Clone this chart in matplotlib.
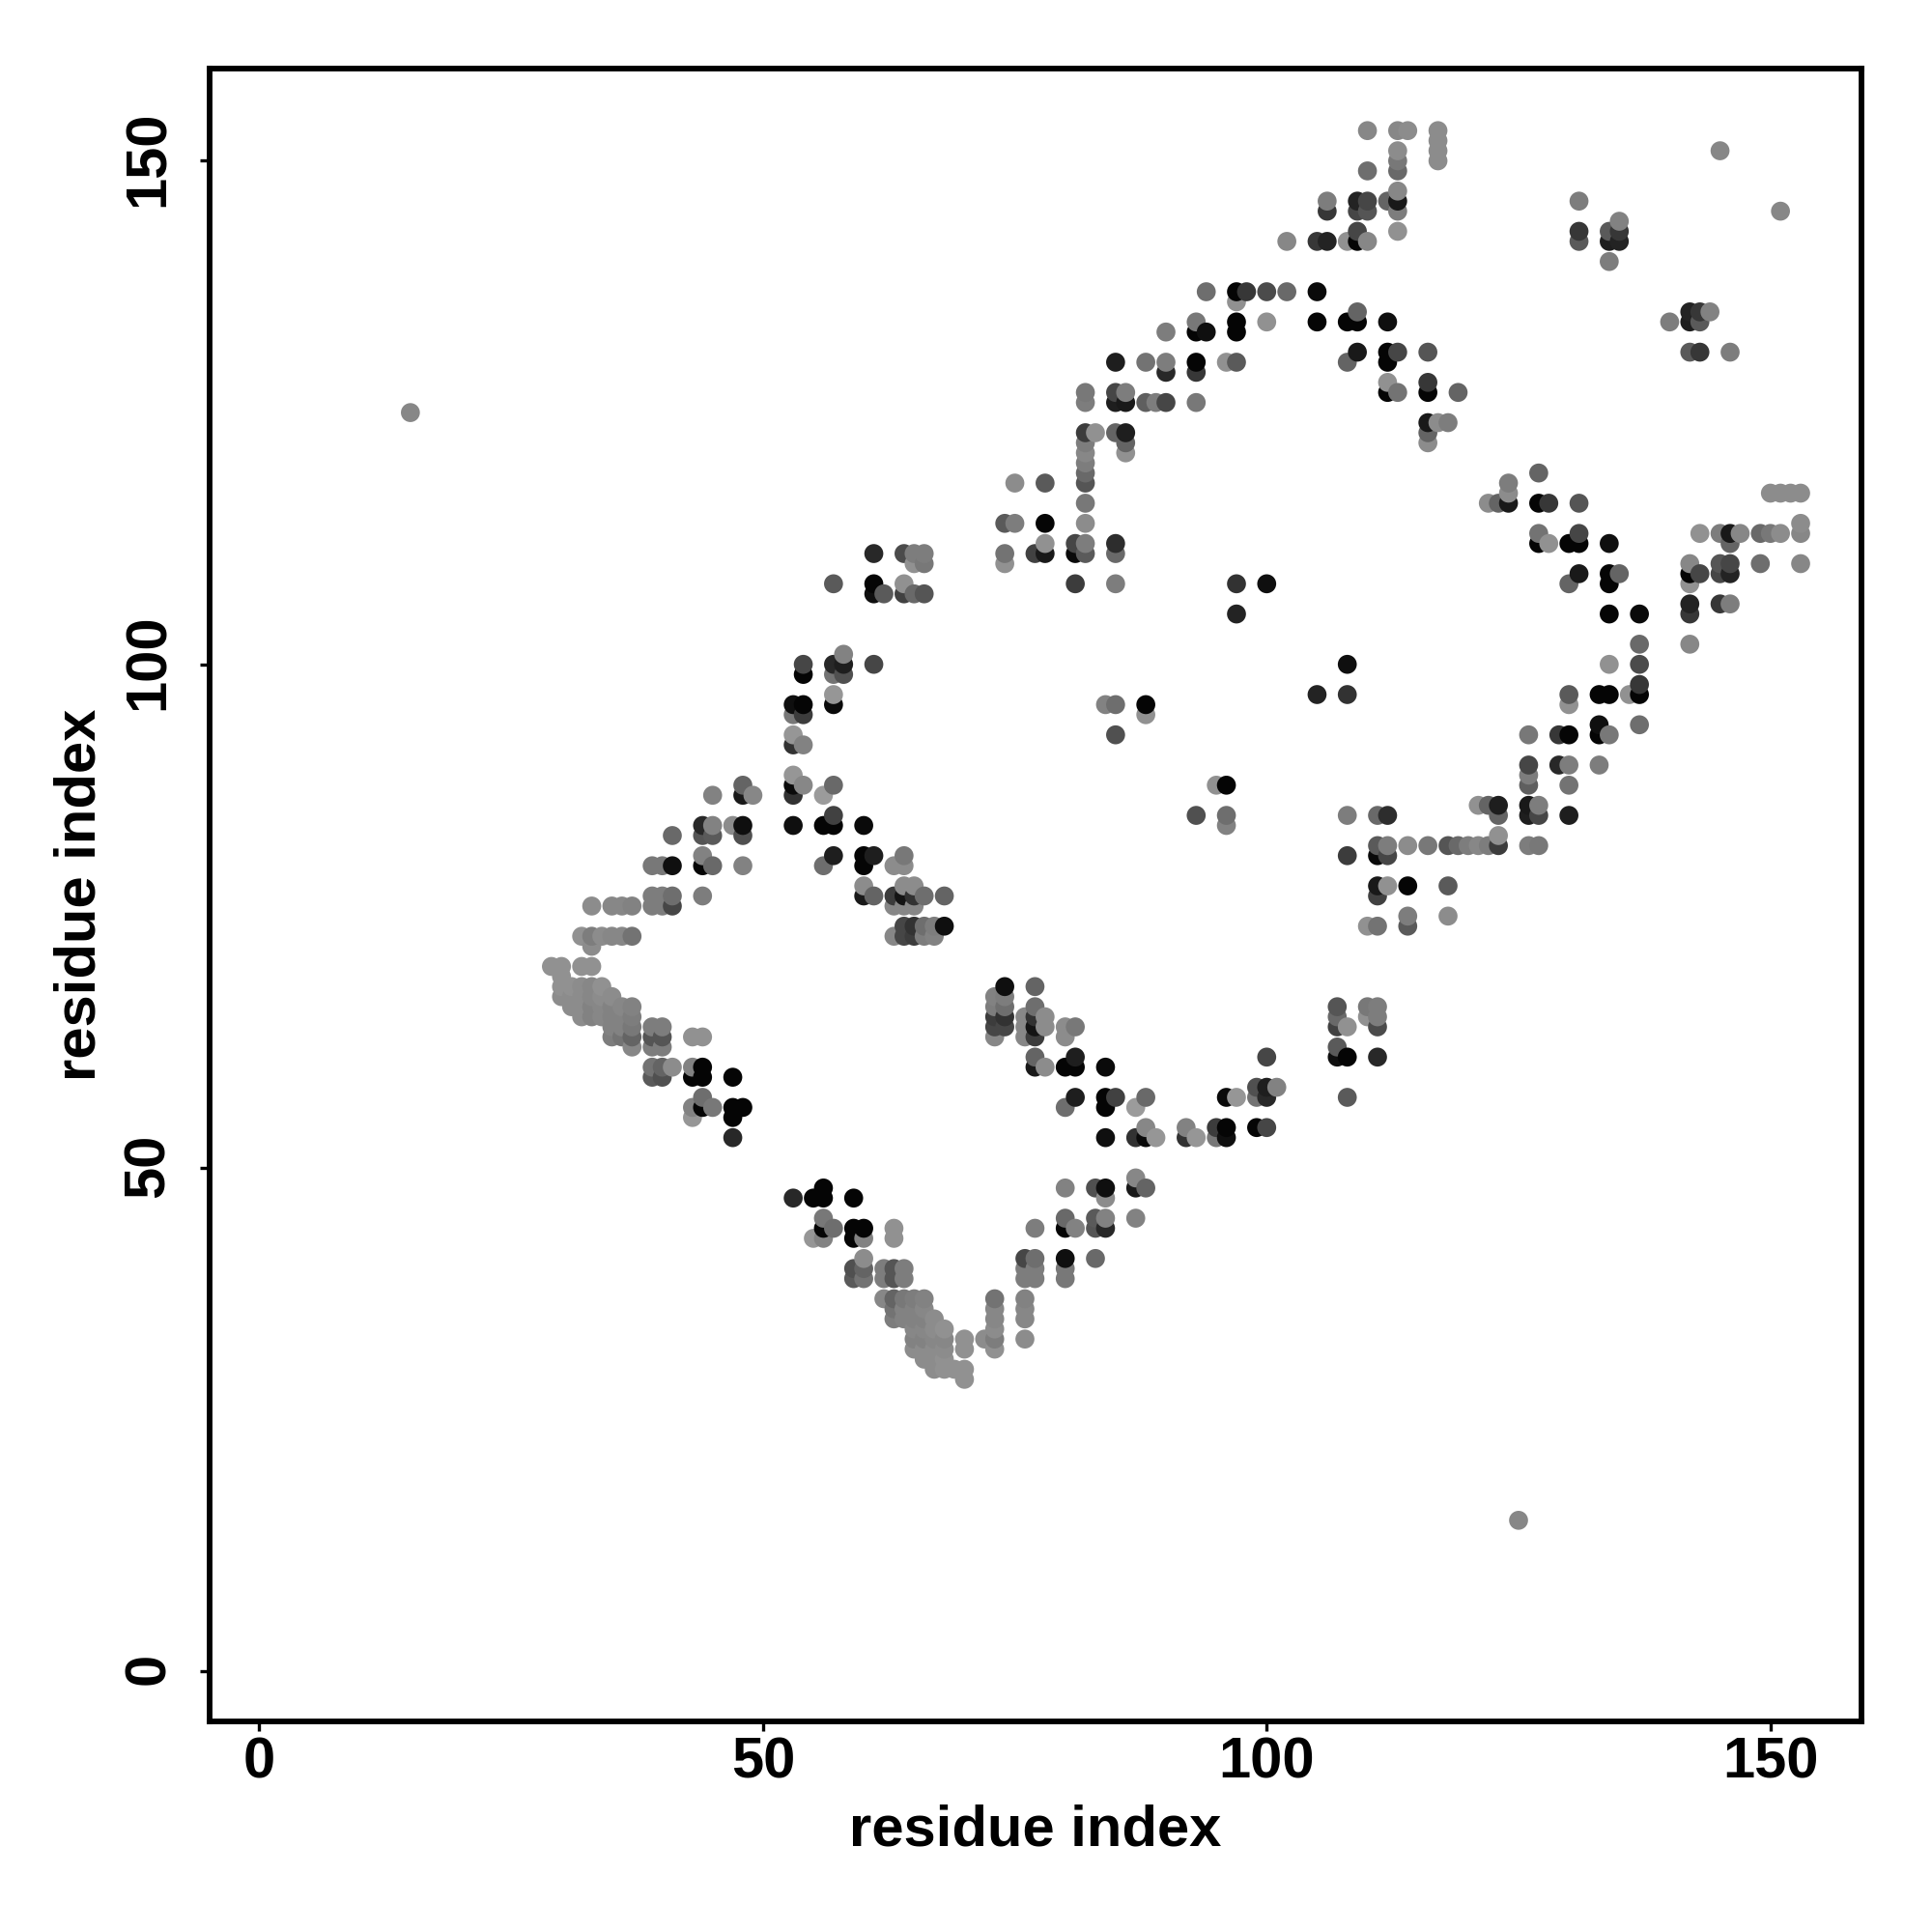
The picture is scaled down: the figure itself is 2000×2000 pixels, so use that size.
import matplotlib
matplotlib.use('Agg')
import matplotlib.pyplot as plt
from matplotlib.transforms import ScaledTranslation
import numpy as np

# contact pairs, one line per first residue (each pair is drawn on both sides of the diagonal)
res_a = [15,
    29,
    30, 30, 30, 30,
    31, 31, 31,
    32, 32, 32, 32, 32, 32,
    33, 33, 33, 33, 33, 33, 33, 33,
    34, 34, 34, 34, 34,
    35, 35, 35, 35, 35, 35, 35,
    36, 36, 36, 36, 36, 36,
    37, 37, 37, 37, 37, 37, 37,
    39, 39, 39, 39, 39, 39, 39, 39,
    40, 40, 40, 40, 40, 40, 40, 40,
    41, 41, 41, 41, 41,
    43, 43, 43, 43, 43,
    44, 44, 44, 44, 44, 44, 44, 44, 44, 44,
    45, 45, 45, 45, 45,
    47, 47, 47, 47, 47,
    48, 48, 48, 48, 48, 48,
    49,
    53, 53, 53, 53, 53, 53, 53, 53,
    54, 54, 54, 54, 54, 54,
    56, 56, 56,
    57, 57, 57, 57, 57, 57, 57, 57, 57,
    58, 58, 58,
    60, 60, 60, 60, 60,
    61, 61, 61, 61, 61, 61,
    62,
    63, 63, 63, 63,
    64, 64, 64, 64, 64, 64, 64, 64, 64, 64,
    65, 65, 65, 65, 65, 65, 65, 65,
    66, 66, 66, 66, 66, 66,
    67, 67,
    68, 68,
    74, 74, 74,
    75, 75,
    77,
    78, 78, 78, 78,
    81, 81, 81,
    82, 82, 82, 82, 82, 82, 82, 82, 82, 82, 82, 82,
    83,
    84,
    85, 85, 85, 85, 85, 85, 85, 85, 85,
    86, 86, 86, 86, 86,
    88, 88, 88, 88,
    89,
    90, 90, 90, 90,
    93, 93, 93, 93, 93,
    94, 94,
    96,
    97, 97, 97, 97, 97, 97, 97,
    98,
    100, 100, 100,
    102, 102,
    105, 105, 105,
    106, 106, 106,
    108, 108, 108,
    109, 109, 109, 109, 109, 109, 109,
    110, 110, 110, 110, 110,
    112, 112, 112, 112, 112, 112,
    113, 113, 113, 113, 113, 113, 113, 113, 113, 113,
    114,
    116, 116, 116, 116, 116, 116,
    117, 117, 117, 117, 117,
    118,
    119,
    131, 131, 131,
    134, 134, 134,
    135, 135, 135,
    145]

res_b = [125,
    70,
    70, 69, 68, 67,
    68, 67, 66,
    73, 70, 68, 67, 66, 65,
    76, 73, 72, 70, 68, 67, 66, 65,
    73, 68, 67, 66, 65,
    76, 73, 67, 66, 65, 64, 63,
    76, 73, 66, 65, 64, 63,
    76, 73, 66, 65, 64, 63, 62,
    80, 77, 76, 64, 63, 62, 60, 59,
    80, 77, 76, 64, 63, 62, 60, 59,
    83, 80, 77, 76, 60,
    63, 60, 59, 56, 55,
    84, 83, 81, 80, 77, 63, 60, 59, 57, 56,
    87, 84, 83, 80, 56,
    84, 59, 56, 55, 53,
    88, 87, 84, 83, 80, 56,
    87,
    96, 95, 93, 92, 89, 88, 87, 84,
    100, 99, 96, 95, 92, 88,
    87, 84, 80,
    108, 100, 99, 97, 96, 88, 85, 84, 81,
    101, 100, 99,
    84, 81, 80, 78, 77,
    111, 108, 107, 100, 81, 77,
    107,
    80, 77, 76, 73,
    111, 108, 107, 81, 80, 78, 77, 76, 74, 73,
    111, 110, 107, 78, 77, 76, 74, 73,
    111, 110, 107, 77, 74, 73,
    74, 73,
    77, 74,
    114, 111, 110,
    118, 114,
    111,
    118, 114, 112, 111,
    112, 111, 108,
    127, 126, 123, 122, 121, 120, 119, 118, 116, 114, 112, 111,
    123,
    96,
    130, 127, 126, 123, 112, 111, 108, 96, 93,
    127, 126, 123, 122, 121,
    130, 126, 96, 95,
    126,
    133, 130, 129, 126,
    134, 133, 130, 129, 126,
    137, 133,
    130,
    137, 136, 134, 133, 130, 108, 105,
    137,
    137, 134, 108,
    142, 137,
    142, 137, 134,
    146, 145, 142,
    142, 134, 130,
    146, 145, 143, 142, 135, 134, 131,
    153, 149, 146, 145, 142,
    146, 134, 131, 130, 128, 127,
    153, 151, 150, 149, 147, 146, 145, 143, 131, 127,
    153,
    131, 128, 127, 124, 123, 122,
    153, 152, 151, 150, 124,
    124,
    127,
    146, 143, 142,
    143, 142, 140,
    144, 143, 142,
    151]

# grey level of each pair, 0 black to 255 white
shade = [135,
    145,
    145, 145, 145, 140,
    145, 140, 140,
    145, 145, 140, 140, 140, 140,
    140, 125, 140, 145, 135, 135, 130, 130,
    140, 145, 140, 135, 135,
    135, 135, 140, 130, 130, 130, 125,
    135, 135, 135, 130, 130, 115,
    130, 115, 130, 125, 120, 100, 135,
    120, 125, 125, 125, 85, 125, 115, 90,
    120, 125, 125, 125, 85, 125, 100, 80,
    105, 15, 110, 70, 140,
    145, 130, 5, 130, 150,
    40, 85, 130, 5, 125, 145, 5, 5, 110, 5,
    130, 130, 90, 105, 120,
    140, 5, 5, 5, 40,
    100, 25, 15, 80, 130, 5,
    135,
    15, 120, 150, 50, 150, 10, 50, 15,
    70, 5, 5, 60, 130, 135,
    155, 5, 110,
    90, 40, 115, 150, 10, 105, 65, 5, 30,
    130, 30, 80,
    10, 5, 5, 140, 25,
    40, 5, 15, 70, 30, 100,
    90,
    140, 60, 135, 135,
    75, 145, 65, 120, 140, 140, 20, 135, 70, 70,
    125, 145, 105, 140, 50, 135, 50, 60,
    125, 120, 85, 110, 110, 125,
    125, 130,
    100, 15,
    90, 115, 145,
    140, 125,
    65,
    90, 5, 145, 25,
    70, 10, 60,
    120, 125, 60, 125, 135, 125, 105, 85, 120, 140, 125, 90,
    145,
    130,
    30, 70, 30, 100, 45, 105, 125, 110, 80,
    125, 25, 30, 100, 145,
    115, 95, 5, 145,
    125,
    125, 125, 40, 70,
    120, 5, 5, 55, 120,
    110, 15,
    145,
    5, 145, 5, 5, 90, 50, 35,
    55,
    75, 145, 15,
    135, 105,
    55, 10, 5,
    125, 55, 35,
    145, 5, 100,
    35, 70, 70, 5, 100, 5, 25,
    135, 110, 70, 85, 135,
    100, 15, 5, 5, 145, 5,
    135, 140, 120, 105, 135, 25, 125, 145, 70, 115,
    140,
    85, 55, 5, 25, 100, 140,
    140, 140, 140, 140, 140,
    125,
    100,
    125, 55, 90,
    90, 30, 125,
    130, 55, 35,
    135]

tick_values = [0, 50, 100, 150]

plt.rcParams['font.family'] = ['Liberation Sans', 'DejaVu Sans']
plt.rcParams['font.weight'] = 'bold'

a = np.array(res_a)
b = np.array(res_b)
g = np.array(shade) / 255.0

x = np.concatenate([a, b])
y = np.concatenate([b, a])
c = np.concatenate([g, g])
order = np.lexsort((y, x))

fig = plt.figure(figsize=(10, 10), dpi=200)
ax = fig.add_axes([217 / 2000, 1 - 1782 / 2000, 1710 / 2000, 1711 / 2000])
ax.scatter(x[order], y[order], s=50, c=[(v, v, v) for v in c[order]], linewidths=0, zorder=3)

ax.set_xlim(-4.93, 159.04)
ax.set_ylim(-4.97, 159.16)
ax.set_xticks(tick_values)
ax.set_yticks(tick_values)
ax.tick_params(axis='x', length=3.6, width=1.2, labelsize=21.5, pad=2)
ax.tick_params(axis='y', length=3.6, width=1.2, labelsize=21.5, pad=9)
plt.setp(ax.get_yticklabels(), rotation=90, va='center')
# nudge the rotated labels up a little, they sit low otherwise
nudge = ScaledTranslation(0, 2.5 / 200, fig.dpi_scale_trans)
for lab in ax.get_yticklabels():
    lab.set_transform(lab.get_transform() + nudge)
for spine in ax.spines.values():
    spine.set_linewidth(2.1)

ax.set_xlabel('residue index', fontsize=21.5, fontweight='bold', labelpad=5.5)
ax.set_ylabel('residue index', fontsize=21.5, fontweight='bold', labelpad=6)

fig.savefig('out.png', dpi=200)
